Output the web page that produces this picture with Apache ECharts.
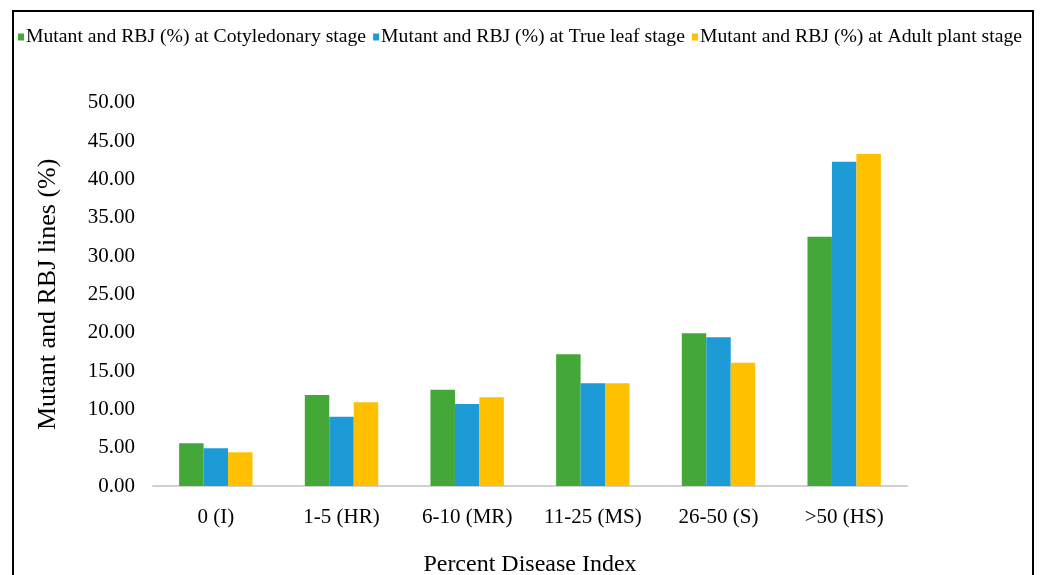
<!DOCTYPE html>
<html>
<head>
<meta charset="utf-8">
<script src="https://cdn.jsdelivr.net/npm/echarts@6/dist/echarts.min.js"></script>
<style>
html,body{margin:0;padding:0;background:#fff;}
#chart{width:1040px;height:575px;}
</style>
</head>
<body>
<div id="chart"></div>
<script>
const categories = ['0 (I)', '1-5 (HR)', '6-10 (MR)', '11-25 (MS)', '26-50 (S)', '>50 (HS)'];
const seriesNames = [
  'Mutant and RBJ (%) at Cotyledonary stage',
  'Mutant and RBJ (%) at True leaf stage',
  'Mutant and RBJ (%) at Adult plant stage'
];
const cotyledonary = [5.57, 11.87, 12.56, 17.18, 19.92, 32.52];
const trueLeaf = [4.92, 9.04, 10.70, 13.40, 19.40, 42.30];
const adultPlant = [4.40, 10.92, 11.57, 13.40, 16.08, 43.31];
const colors = ['#43A838', '#1C9BD7', '#FFC000'];

const chart = echarts.init(document.getElementById('chart'), null, {renderer: 'canvas'});
const font = '"Liberation Serif", "Times New Roman", serif';
const dataSets = [cotyledonary, trueLeaf, adultPlant];

chart.setOption({
  animation: false,
  textStyle: {fontFamily: font},
  color: colors,
  graphic: [{
    type: 'rect',
    shape: {x: 13, y: 11, width: 1020, height: 620},
    style: {fill: 'none', stroke: '#000', lineWidth: 2}
  }],
  legend: {
    top: 22,
    left: 'center',
    itemWidth: 6,
    itemHeight: 7,
    itemGap: 7,
    icon: 'rect',
    textStyle: {fontFamily: font, fontSize: 19.7, color: '#000', padding: [0, 0, 0, -3]},
    data: seriesNames
  },
  grid: {left: 153, right: 133, top: 102.7, bottom: 89, containLabel: false, outerBoundsMode: 'none'},
  xAxis: {
    type: 'category',
    data: categories,
    name: 'Percent Disease Index',
    nameLocation: 'middle',
    nameGap: 67,
    nameTextStyle: {fontFamily: font, fontSize: 24, color: '#000'},
    axisLine: {lineStyle: {color: '#d0d0d0', width: 2}},
    axisTick: {show: false},
    axisLabel: {fontFamily: font, fontSize: 21, color: '#000', margin: 21, interval: 0, hideOverlap: false}
  },
  yAxis: {
    type: 'value',
    min: 0,
    max: 50,
    interval: 5,
    name: 'Mutant and RBJ lines (%)',
    nameLocation: 'middle',
    nameGap: 92,
    nameTextStyle: {fontFamily: font, fontSize: 26, color: '#000'},
    axisLine: {show: false},
    axisTick: {show: false},
    splitLine: {show: false},
    axisLabel: {fontFamily: font, fontSize: 21, color: '#000', margin: 18,
      formatter: v => v.toFixed(2)}
  },
  series: seriesNames.map((n, i) => ({
    name: n,
    type: 'bar',
    data: dataSets[i],
    barGap: '0%',
    barCategoryGap: '41.6%',
    itemStyle: {color: colors[i]}
  }))
});
</script>
</body>
</html>
